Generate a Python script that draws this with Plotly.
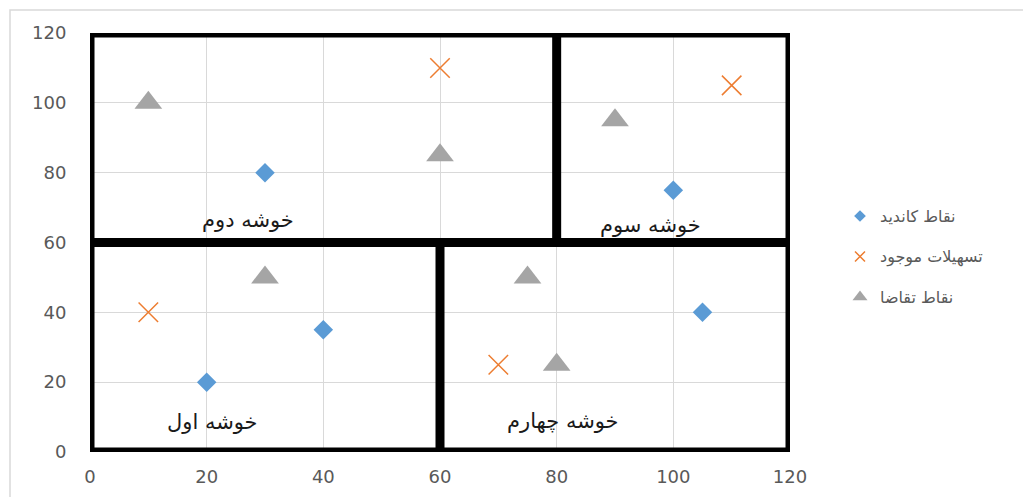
import plotly.graph_objects as go

# --- data -------------------------------------------------------------
candidate_x = [30, 20, 40, 100, 105]
candidate_y = [80, 20, 35, 75, 40]

facility_x = [60, 110, 10, 70]
facility_y = [110, 105, 40, 25]

demand_x = [10, 60, 90, 30, 75, 80]
demand_y = [100, 85, 95, 50, 50, 25]

cluster_names = ["خوشه دوم", "خوشه سوم", "خوشه اول", "خوشه چهارم"]
cluster_label_x = [27, 96, 21, 81]
cluster_label_y = [66.5, 65, 8.5, 9]

# cluster boundaries (x0, y0, x1, y1) inside the 0..120 square
boundary_segments = [(0, 60, 120, 60), (80, 60, 80, 120), (60, 0, 60, 60)]
area_limits = (0, 0, 120, 120)

series_names = ["نقاط کاندید", "تسهیلات موجود", "نقاط تقاضا"]
tick_values = [0, 20, 40, 60, 80, 100, 120]

# --- styles -----------------------------------------------------------
BLUE = "#5B9BD5"
ORANGE = "#ED7D31"
GRAY = "#A5A5A5"
TEXT = "#595959"
W, H = 1023, 497

marker_styles = [
    dict(symbol="diamond", size=15, color=BLUE, line=dict(width=0)),
    dict(symbol="x-thin", size=19.5, color=ORANGE, line=dict(width=1.5, color=ORANGE)),
    dict(symbol="triangle-up", size=24, color=GRAY, line=dict(width=0)),
]

fig = go.Figure()

series = [(candidate_x, candidate_y), (facility_x, facility_y), (demand_x, demand_y)]
for (xs, ys), name, style in zip(series, series_names, marker_styles):
    fig.add_trace(go.Scatter(x=xs, y=ys, mode="markers", name=name,
                             marker=style, showlegend=False,
                             xaxis="x", yaxis="y", cliponaxis=False))

# right-to-left legend: the marker sits before the label, drawn on a
# pixel-scaled helper axis in the right margin
legend_left = 840
legend_top = 216
legend_step = 40.5
legend_sizes = {"diamond": 9, "x-thin": 10, "triangle-up": 13}
for i, (name, style) in enumerate(zip(series_names, marker_styles)):
    ly = legend_top + i * legend_step
    small = dict(style)
    small["size"] = legend_sizes[style["symbol"]]
    fig.add_trace(go.Scatter(x=[20], y=[ly], mode="markers", marker=small,
                             showlegend=False, xaxis="x2", yaxis="y2",
                             hoverinfo="skip", cliponaxis=False))
    fig.add_annotation(x=38, y=ly, xref="x2", yref="y2", text=name,
                       showarrow=False, xanchor="left", yanchor="middle",
                       font=dict(family="DejaVu Sans", size=16, color=TEXT))

# cluster captions
for name, cx, cy in zip(cluster_names, cluster_label_x, cluster_label_y):
    fig.add_annotation(x=cx, y=cy, xref="x", yref="y", text=name,
                       showarrow=False, xanchor="center", yanchor="middle",
                       font=dict(family="DejaVu Sans", size=21, color="#1a1a1a"))

# thick cluster frame
x0, y0, x1, y1 = area_limits
fig.add_shape(type="rect", x0=x0, y0=y0, x1=x1, y1=y1, xref="x", yref="y",
              line=dict(color="black", width=9), layer="between")
for sx0, sy0, sx1, sy1 in boundary_segments:
    fig.add_shape(type="line", x0=sx0, y0=sy0, x1=sx1, y1=sy1, xref="x", yref="y",
                  line=dict(color="black", width=9), layer="between")

# light chart-area border
fig.add_shape(type="rect", xref="paper", yref="paper",
              x0=10 / W, y0=-0.2, x1=1.3, y1=(H - 10) / H,
              line=dict(color="#D9D9D9", width=1.5), layer="below")

axis_common = dict(range=[0, 120], tickvals=tick_values, showgrid=True,
                   gridcolor="#D9D9D9", gridwidth=1, zeroline=False,
                   showline=False, ticks="outside", tickcolor="rgba(0,0,0,0)",
                   tickfont=dict(family="DejaVu Sans", size=18, color=TEXT),
                   fixedrange=True, automargin=False)

fig.update_layout(
    width=W, height=H,
    margin=dict(l=0, r=0, t=0, b=0, autoexpand=False),
    paper_bgcolor="white", plot_bgcolor="white",
    showlegend=False,
    xaxis=dict(domain=[90 / W, 790 / W], ticklen=8, **axis_common),
    yaxis=dict(domain=[(H - 452) / H, (H - 33) / H], ticklen=19, **axis_common),
    xaxis2=dict(domain=[legend_left / W, 1], range=[0, W - legend_left],
                visible=False, anchor="y2", fixedrange=True),
    yaxis2=dict(domain=[0, 1], range=[H, 0], visible=False, anchor="x2",
                fixedrange=True),
)

fig.write_html("out.html")
